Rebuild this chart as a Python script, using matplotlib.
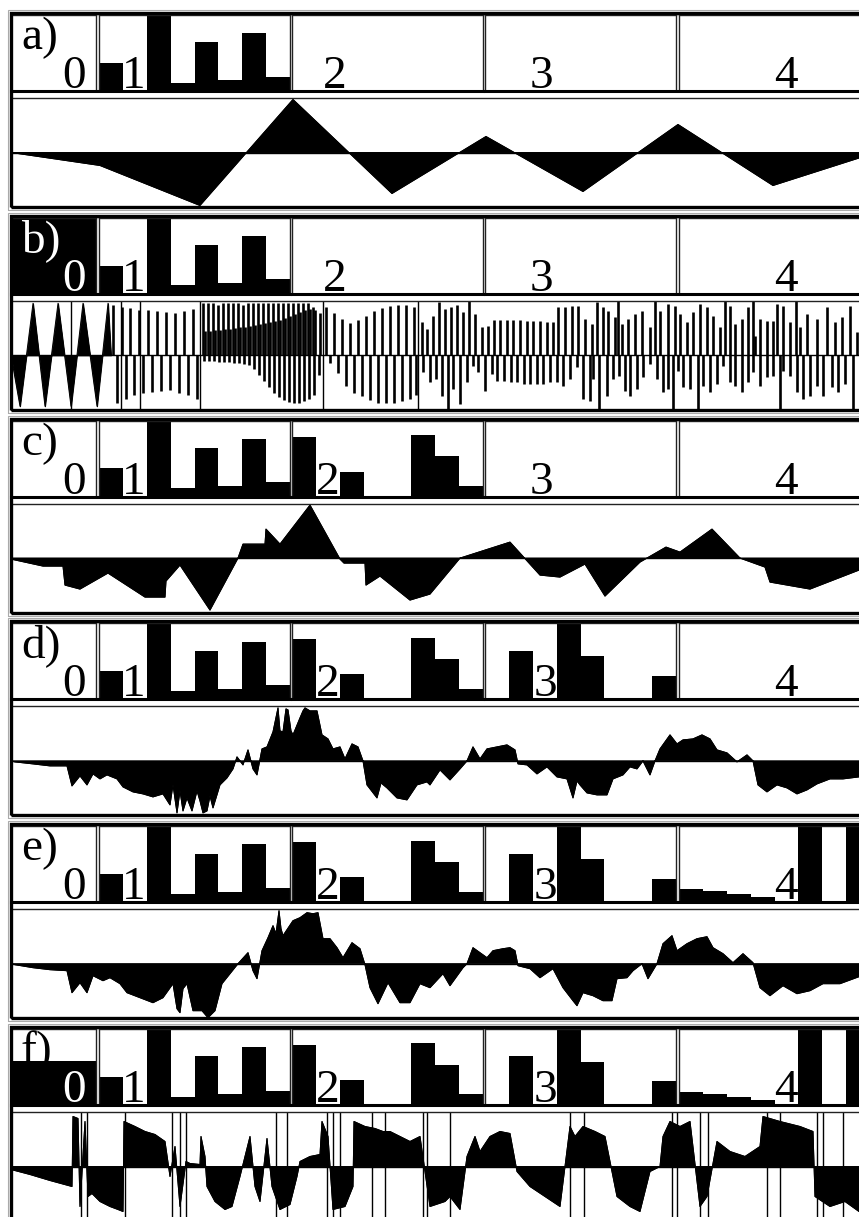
import numpy as np
import matplotlib.pyplot as plt
from matplotlib.patches import Rectangle

W, H = 859, 1217

# ---- coefficient boxes (bar heights as fraction of box height) ----
panel_names = ['a)', 'b)', 'c)', 'd)', 'e)', 'f)']
level0 = [0.0, 1.03, 0.0, 0.0, 0.0, 0.58]
level1 = [0.37, 0, 1.03, 0.11, 0.64, 0.14, 0.76, 0.19]
level2 = [0.79, 0, 0.33, 0, 0, 0.81, 0.53, 0.14]
level3 = [0, 0.64, 0, 1.03, 0.57, 0, 0, 0.31]
level4 = [0.17, 0.15, 0.11, 0.07, 0, 1.03, 0, 1.03]
levels_on = [1, 1, 2, 3, 4, 4]
box_labels = ['0', '1', '2', '3', '4']

# ---- reconstructed signals: sample position, value ----
a_t = [11, 100, 200, 293, 392, 486, 583, 678, 773, 870]
a_v = [0, -13, -53, 53, -41, 16, -39, 28, -33, -2]

# b: slow triangles at the start, then narrow spikes
b_t = [11, 20, 33, 45, 58, 71, 83, 97, 108, 111]
b_v = [0, -51, 52, -51, 52, -51, 52, -51, 52, 0]
b_up_left_t = [113, 122, 130, 139, 148, 157, 166, 175, 184, 193,
               203, 208, 213, 218, 223, 228, 233, 238, 243, 248, 253, 258,
               263, 268, 273, 278, 283, 288, 293, 298, 303, 308, 313,
               205, 210, 215, 220, 225, 230, 235, 240, 245, 250, 255, 260,
               265, 270, 275, 280, 285, 290, 295, 300, 305, 310, 315, 320,
               326, 334, 342, 350, 358, 366, 374, 382, 390, 398, 406, 414]
b_up_left_v = [50, 48, 47, 45, 45, 44, 43, 42, 44, 46,
               52, 52, 52, 50, 52, 52, 52, 52, 50, 52, 52, 52,
               52, 52, 52, 52, 52, 52, 52, 52, 52, 52, 48,
               24, 24, 25, 25, 26, 26, 27, 28, 28, 29, 30, 31,
               32, 33, 34, 35, 37, 39, 41, 43, 45, 46, 45, 42,
               48, 42, 36, 32, 35, 39, 44, 47, 49, 50, 50, 48]
b_dn_left_t = [117, 126, 134, 143, 152, 161, 170, 179, 188, 197,
               204, 209, 214, 219, 224, 229, 234, 239, 244, 249, 254, 259,
               264, 269, 274, 279, 284, 289, 294, 299, 304, 309, 314, 319,
               330, 338, 346, 354, 362, 370, 378, 386, 394, 402, 410, 416]
b_dn_left_v = [-48, -44, -40, -38, -37, -36, -35, -38, -40, -44,
               -6, -6, -6, -7, -7, -7, -8, -8, -9, -10, -14, -20,
               -26, -32, -38, -42, -45, -47, -48, -48, -46, -44, -40, -20,
               -8, -18, -31, -38, -41, -45, -48, -48, -48, -46, -44, -40]
b_up_right_t = [422, 427, 433, 439, 445, 451, 457, 463, 469, 475,
                482, 488, 494, 500, 507, 513, 520, 527, 533, 540,
                547, 553, 558, 565, 572, 578, 585, 592, 597, 603,
                608, 615, 618, 622, 628, 635, 642, 650, 655, 660,
                668, 675, 680, 687, 693, 700, 707, 713, 720, 725,
                730, 735, 742, 748, 753, 755, 760, 767, 773, 777,
                783, 790, 796, 800, 807, 817, 827, 835, 842, 850, 857]
b_up_right_v = [33, 26, 39, 53, 46, 48, 50, 43, 60, 41,
                28, 29, 35, 35, 35, 35, 35, 34, 34, 34,
                33, 33, 48, 48, 49, 49, 36, 31, 53, 48,
                44, 38, 60, 31, 36, 41, 44, 28, 60, 44,
                51, 49, 41, 33, 43, 51, 48, 39, 28, 60,
                49, 31, 36, 48, 60, 19, 36, 34, 34, 51,
                49, 33, 60, 28, 41, 36, 48, 33, 38, 49, 23]
b_dn_right_t = [423, 430, 436, 442, 448, 453, 460, 467, 473, 478,
                485, 492, 497, 504, 511, 517, 524, 530, 537, 543,
                550, 557, 563, 570, 577, 583, 590, 593, 599, 607,
                613, 619, 625, 630, 637, 643, 650, 657, 663, 668,
                673, 678, 683, 690, 698, 703, 710, 717, 723, 730,
                735, 742, 748, 753, 760, 767, 773, 780, 783, 790,
                797, 803, 810, 817, 823, 832, 838, 845, 853]
b_dn_right_v = [-17, -27, -24, -41, -60, -34, -49, -27, -11, -17,
                -36, -19, -26, -26, -27, -27, -29, -29, -29, -29,
                -27, -27, -31, -24, -12, -44, -46, -24, -60, -41,
                -24, -21, -36, -41, -34, -22, -9, -24, -37, -34,
                -60, -16, -32, -34, -60, -31, -37, -29, -11, -27,
                -31, -37, -27, -17, -31, -22, -21, -60, -16, -21,
                -37, -44, -41, -31, -41, -32, -37, -29, -60]
b_lines = [71, 121, 140, 200, 323, 418]

c_t = [11, 43, 63, 65, 80, 108, 145, 165, 166, 180, 210, 238, 243, 265, 266,
       280, 310, 340, 344, 365, 366, 380, 410, 430, 460, 510, 540, 560, 585,
       605, 640, 666, 680, 712, 740, 765, 770, 810, 859, 870]
c_v = [-1, -8, -8, -27, -31, -15, -39, -39, -23, -7, -52, 0, 14, 14, 29,
       14, 53, -1, -5, -5, -27, -18, -42, -36, 0, 16, -17, -19, -6,
       -38, -4, 11, 6, 29, 0, -9, -24, -31, -12, -10]

d_t = [11, 15, 33, 50, 67, 72, 80, 87, 93, 100, 107, 117, 123, 133, 143, 153,
       163, 170, 173, 177, 180, 183, 187, 192, 197, 200, 203, 207, 210, 213,
       220, 227, 233, 237, 243,
       248, 253, 257, 262, 267, 273, 278, 280, 283, 286, 288, 291, 293, 300,
       303, 305, 310, 317, 322, 328, 333, 340, 345, 352, 358, 363, 367, 377,
       381, 387, 397, 407, 417,
       427, 430, 440, 450, 460, 467, 473, 480, 487, 497, 507, 515, 518, 527,
       537, 547, 557, 567, 573, 577, 580, 587, 597, 607, 613, 623, 630, 637,
       643, 650, 655, 660, 670, 677, 683, 693, 702, 710, 717, 727, 737, 747,
       753, 758, 767, 777, 787, 797, 807, 817, 830, 843, 859, 870]
d_v = [0, -1, -3, -5, -5, -25, -15, -24, -13, -18, -14, -18, -26, -31, -33,
       -36, -33, -44, -24, -52, -30, -50, -37, -50, -30, -40, -52, -50, -35,
       -47, -24, -17, -8, 4, -4,
       11, -8, -14, 12, 14, 29, 53, 30, 29, 52, 51, 30, 26, 43, 50, 53, 50,
       50, 26, 22, 12, 14, 2, 17, 14, 0, -24, -37, -22, -27, -37, -39, -24,
       -21, -24, -9, -19, -8, 0, 14, 2, 12, 14, 16, 11, -3, -4, -13, -6,
       -16, -18, -37, -20, -24, -32, -34, -34, -18, -14, -6, -8, 0, -14, 0,
       12, 26, 17, 21, 22, 26, 22, 11, 8, -1, 6, 0, -24, -31, -24, -27, -33,
       -29, -23, -18, -18, -16, -15]

e_t = [11, 15, 33, 50, 67, 72, 80, 87, 93, 103, 110, 120, 127, 140, 153, 163,
       173, 177, 180, 183, 187, 193, 202, 208, 215, 222, 230, 238, 248, 253,
       257, 262, 268, 273, 276, 279, 281, 283, 293, 300, 307, 313, 318, 323,
       330, 337, 343, 352, 360, 365, 370, 378, 388, 400, 410, 420, 430, 443,
       450, 463, 467, 473, 480, 487, 493, 503, 510, 515, 518, 530, 540, 553,
       563, 573, 577, 583, 593, 603, 612, 617, 627, 633, 642, 648, 657, 663,
       672, 677, 687, 697, 707, 713, 723, 733, 743, 753, 760, 770, 783, 797,
       810, 823, 840, 859, 870]
e_v = [0, -1, -4, -6, -7, -29, -19, -29, -12, -17, -14, -20, -29, -34, -39,
       -34, -20, -45, -49, -25, -20, -47, -47, -54, -47, -20, -10, 0, 11,
       -7, -15, 13, 26, 38, 30, 53, 35, 28, 43, 46, 51, 50, 51, 25, 25, 16,
       6, 21, 15, -1, -24, -40, -19, -39, -39, -20, -24, -10, -22, -4, 0,
       16, 11, 6, 13, 15, 16, 13, -2, -5, -14, -5, -24, -37, -42, -29, -32,
       -37, -37, -15, -14, -7, 0, -15, 0, 20, 28, 13, 20, 25, 27, 16, 10, 1,
       10, 1, -24, -32, -22, -30, -27, -20, -20, -13, -12]

f_t = [11, 30, 50, 72, 73, 78, 80, 85, 88, 92, 100, 110, 118, 123, 124, 135,
       145, 155, 165, 170, 175, 180, 186, 190, 200, 201, 205, 207, 215, 225,
       232, 240, 250, 255, 260, 267, 272, 280, 290, 297, 300, 310, 320, 322,
       328, 333, 345, 353, 354, 365, 375, 383, 390, 400, 410, 420, 430, 445,
       450, 460, 467, 475, 480, 490, 500, 510, 517, 530, 545, 560, 570, 575,
       583, 595, 605, 617, 630, 640, 650, 660, 663, 670, 680, 690, 700, 707,
       717, 730, 745, 760, 763, 780, 800, 813, 815, 830, 845, 859, 870]
f_v = [-3, -8, -14, -20, 50, 48, -40, 45, -30, -27, -35, -40, -43, -45, 45,
       40, 35, 32, 25, -10, 20, -40, 5, 3, 2, 30, 10, -20, -35, -43, -40,
       -10, 30, -20, -35, 28, -20, -43, -38, -10, 5, 10, 12, 45, 30, -43,
       -40, -20, 45, 40, 38, 35, 35, 30, 25, 30, -40, -35, -30, -43, 10, 30,
       15, 30, 35, 33, -5, -20, -30, -40, 40, 30, 40, 35, 30, -30, -40, -45,
       -5, 0, 30, 45, 40, 45, -40, -30, 25, 15, 10, 20, 50, 45, 40, 35, -30,
       -40, -35, -45, -45]
f_lines = [81, 87, 125, 172, 180, 186, 276, 287, 327, 333, 340, 372, 385, 423,
           427, 450, 570, 584, 672, 677, 700, 708, 767, 780, 817, 823, 843]

# ---- layout (pixels) ----
panel_top = [13, 215.8, 418.6, 621.4, 824.2, 1027]
box_x0 = [11, 99, 292, 485, 679]
box_w = [85, 191, 191, 191, 191]
label_x = [[86, 146, 347, 553, 798], [86, 146, 347, 553, 798],
           [86, 146, 340, 553, 798], [86, 146, 340, 557, 798],
           [86, 146, 340, 557, 798], [86, 146, 340, 557, 798]]
FONT = 'Liberation Serif'


def fig_rect(x, y, w, h):
    return [x / W, 1 - (y + h) / H, w / W, h / H]


fig = plt.figure(figsize=(W / 100, H / 100), dpi=100)

signals = [(a_t, a_v), (b_t, b_v), (c_t, c_v), (d_t, d_v), (e_t, e_v), (f_t, f_v)]
full_lines = [[], b_lines, [], [], [], f_lines]
details = [level1, level2, level3, level4]

for p in range(6):
    T = panel_top[p]
    # coefficient boxes
    for b in range(5):
        ax = fig.add_axes(fig_rect(box_x0[b], T + 2, box_w[b], 76))
        if b == 0:
            ax.set_xlim(0, 1)
            ax.bar([0], [level0[p]], width=1, align='edge', color='black',
                   clip_on=False, zorder=2)
        else:
            ax.set_xlim(0, 8)
            if b <= levels_on[p]:
                ax.bar(np.arange(8), details[b - 1], width=1, align='edge',
                       color='black', clip_on=False, zorder=2)
        ax.set_ylim(0, 1)
        ax.set_xticks([])
        ax.set_yticks([])
        for s in ax.spines.values():
            s.set_linewidth(1.0)
            s.set_color('#222222')
        ax.spines['bottom'].set_linewidth(2.2)
        ax.spines['bottom'].set_color('black')

        col = 'black'
        if b == 0 and level0[p] > 0.5:
            col = 'white'
        ax.text(label_x[p][b] / W, 1 - (T + 75) / H, box_labels[b],
                transform=fig.transFigure, ha='right', va='baseline',
                fontsize=34, family=FONT, color=col, zorder=3)
        if b == 0:
            pcol = 'white' if level0[p] > 1 else 'black'
            ax.text(21 / W, 1 - (T + 36) / H, panel_names[p],
                    transform=fig.transFigure, ha='left', va='baseline',
                    fontsize=34, family=FONT, color=pcol,
                    zorder=3 if pcol == 'white' else 1)

    # signal
    t, v = signals[p]
    ax = fig.add_axes(fig_rect(11, T + 85, 859, 109))
    ax.fill_between(t, v, 0, color='black', linewidth=0.7)
    ax.plot(t, v, color='black', linewidth=0.7)
    if p == 1:
        ax.vlines(b_up_left_t + b_up_right_t, 0, b_up_left_v + b_up_right_v,
                  color='black', linewidth=1.9)
        ax.vlines(b_dn_left_t + b_dn_right_t, 0, b_dn_left_v + b_dn_right_v,
                  color='black', linewidth=1.9)
    if full_lines[p]:
        ax.vlines(full_lines[p], -55, 55, color='black', linewidth=1.0)
    ax.axhline(0, color='black', linewidth=1.0)
    ax.set_xlim(11, 870)
    ax.set_ylim(-54.5, 54.5)
    ax.set_xticks([])
    ax.set_yticks([])
    for s in ax.spines.values():
        s.set_visible(False)
    ax.spines['top'].set_visible(True)
    ax.spines['top'].set_linewidth(1.0)
    ax.spines['top'].set_color('#222222')

    # outer frame
    fig.patches.append(Rectangle((11 / W, 1 - (T + 194) / H), 859 / W, 194 / H,
                                 fill=False, edgecolor='black', linewidth=2.4,
                                 transform=fig.transFigure, zorder=5))
    fig.patches.append(Rectangle((8 / W, 1 - (T + 197) / H), 865 / W, 200 / H,
                                 fill=False, edgecolor='#aaaaaa', linewidth=0.8,
                                 transform=fig.transFigure, zorder=5))

fig.savefig('out.png', dpi=100)
